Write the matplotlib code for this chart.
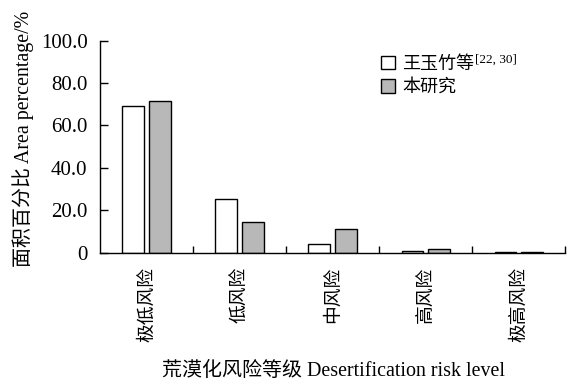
import matplotlib
matplotlib.use("Agg")
import matplotlib.pyplot as plt
import numpy as np
from matplotlib.patches import Patch

plt.rcParams['font.family'] = ['Liberation Serif', 'Noto Sans CJK SC', 'DejaVu Sans']

categories = ['极低风险', '低风险', '中风险', '高风险', '极高风险']
wang = [69.3, 25.3, 4.0, 0.6, 0.4]
this_study = [71.7, 14.5, 11.3, 1.9, 0.2]
yticks = [0, 20, 40, 60, 80, 100]
ytick_labels = ['0', '20.0', '40.0', '60.0', '80.0', '100.0']
series_names = ['王玉竹等', '本研究']
citation = '[22, 30]'

fig = plt.figure(figsize=(5.68, 3.84), dpi=100)
ax = fig.add_axes([0.176, 0.342, 0.819, 0.552])

x = np.arange(len(categories)) + 0.5
w = 0.232
gap = 0.054
ax.bar(x - (w + gap) / 2, wang, width=w, color='white', edgecolor='black', linewidth=1.0)
ax.bar(x + (w + gap) / 2, this_study, width=w, color='#b8b8b8', edgecolor='black', linewidth=1.0)

ax.set_xlim(0, len(categories))
ax.set_ylim(0, 100)
ax.spines['top'].set_visible(False)
ax.spines['right'].set_visible(False)
for s in ['left', 'bottom']:
    ax.spines[s].set_linewidth(1.0)

ax.set_yticks(yticks)
ax.set_yticklabels(ytick_labels, fontsize=15)
ax.tick_params(axis='y', direction='in', length=6, width=1.0, pad=9)

ax.set_xticks(np.arange(1, len(categories) + 1))
ax.set_xticklabels([])
ax.tick_params(axis='x', direction='in', length=5, width=1.0)
ax.set_xticks(x, minor=True)
ax.set_xticklabels(categories, minor=True, rotation=90, fontsize=13.5,
                   family=['Noto Sans CJK SC'])
ax.tick_params(axis='x', which='minor', length=0, pad=10)

fig.text(23 / 568, 1 - 138.5 / 384, '面积百分比 Area percentage/%', fontsize=14.4,
         rotation=90, ha='center', va='center')
fig.text(334 / 568, 1 - 371 / 384, '荒漠化风险等级 Desertification risk level', fontsize=14.4,
         ha='center', va='center')

handles = [Patch(facecolor='white', edgecolor='black', linewidth=1.0),
           Patch(facecolor='#b8b8b8', edgecolor='black', linewidth=1.0)]
leg = ax.legend(handles, series_names, loc='upper left', bbox_to_anchor=(0.57, 1.005),
                frameon=False, fontsize=13, handlelength=0.75, handleheight=0.75,
                handletextpad=0.4, labelspacing=0.35)

fig.canvas.draw()
renderer = fig.canvas.get_renderer()
bb = leg.get_texts()[0].get_window_extent(renderer)
fx, fy = fig.transFigure.inverted().transform((bb.x1 + 1, bb.y1 + 2))
fig.text(fx, fy, citation, fontsize=9.5, ha='left', va='top')

fig.savefig('out.png', dpi=100)
